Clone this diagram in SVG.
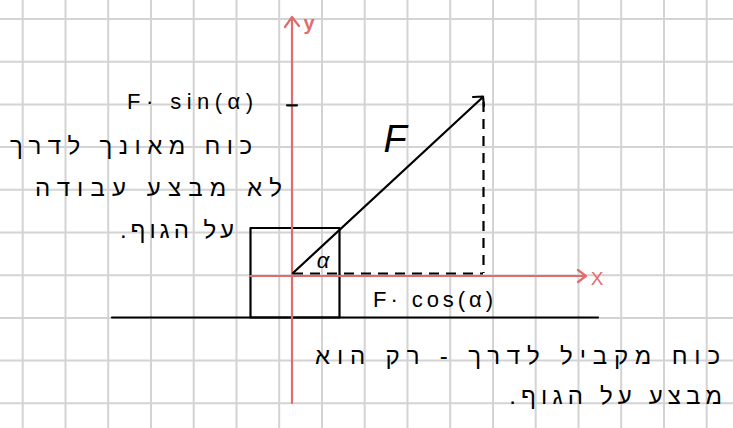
<svg xmlns="http://www.w3.org/2000/svg" width="733" height="428" viewBox="0 0 733 428">
<style>
.grid{stroke:#d3d3d3;stroke-width:2;fill:none}
.axis{stroke:#e06d6d;stroke-width:2.2;fill:none;stroke-linecap:round;stroke-linejoin:round}
.ink{stroke:#000;stroke-width:2.2;fill:none;stroke-linecap:round;stroke-linejoin:round}
.dash{stroke:#000;stroke-width:2.2;fill:none;stroke-dasharray:10 7}
.t{font-family:"Liberation Sans","DejaVu Sans",sans-serif;fill:#000}
.he{font-family:"Liberation Sans","DejaVu Sans",sans-serif;font-size:24px;fill:#000}
.red{font-family:"Liberation Sans","DejaVu Sans",sans-serif;fill:#e06d6d}
</style>
<rect width="733" height="428" fill="#fff"/>
<g id="grid">
<path class="grid" d="M22.7 0V428M65.5 0V428M108.2 0V428M151 0V428M193.7 0V428M236.5 0V428M279.2 0V428M322 0V428M364.7 0V428M407.5 0V428M450.2 0V428M493 0V428M535.7 0V428M578.5 0V428M621.2 0V428M664 0V428M706.7 0V428M0 19H733M0 61.7H733M0 104.4H733M0 147.1H733M0 189.8H733M0 232.5H733M0 275.2H733M0 317.9H733M0 360.6H733M0 403.3H733"/>
</g>
<g id="ground"><path class="ink" d="M112 317.5H598"/></g>
<g id="box"><rect class="ink" x="250.5" y="228" width="89" height="89.5"/></g>
<g id="axes">
<path class="axis" d="M292 403V17M285 27L292 17L299 26"/>
<path class="axis" d="M250 276H586M578 270L586 276L578 282"/>
<text class="red" x="309" y="30" font-size="20" font-weight="bold" text-anchor="middle">y</text>
<text class="red" x="597" y="285" font-size="19" text-anchor="middle">X</text>
</g>
<g id="connectors">
<path class="ink" d="M293 273L483 97M473 97L483 96.5L484 106"/>
<path class="dash" d="M483.5 102V273"/>
<path class="dash" d="M293 273.5H483"/>
<path class="ink" d="M287 105.3H297" stroke-width="3"/>
</g>
<g id="labels">
<text class="t" x="127" y="109" font-size="22" textLength="126" lengthAdjust="spacing">F· sin(α)</text>
<text class="t" x="395" y="152" font-size="38" font-style="italic" text-anchor="middle">F</text>
<text class="t" x="323" y="268" font-size="22" font-style="italic" text-anchor="middle">α</text>
<text class="t" x="373" y="307" font-size="22" textLength="120" lengthAdjust="spacing">F· cos(α)</text>
</g>
<g id="note-left">
<text class="he" x="252" y="154" text-anchor="end" textLength="242" lengthAdjust="spacing">כוח מאונך לדרך</text>
<text class="he" x="282" y="196" text-anchor="end" textLength="247" lengthAdjust="spacing">לא מבצע עבודה</text>
<text class="he" x="234" y="238" text-anchor="end" textLength="118" lengthAdjust="spacing">על הגוף.&#x200F;</text>
</g>
<g id="note-bottom">
<text class="he" x="720" y="364" text-anchor="end" textLength="405" lengthAdjust="spacing">כוח מקביל לדרך - רק הוא</text>
<text class="he" x="722" y="404" text-anchor="end" textLength="218" lengthAdjust="spacing">מבצע על הגוף.&#x200F;</text>
</g>
</svg>
